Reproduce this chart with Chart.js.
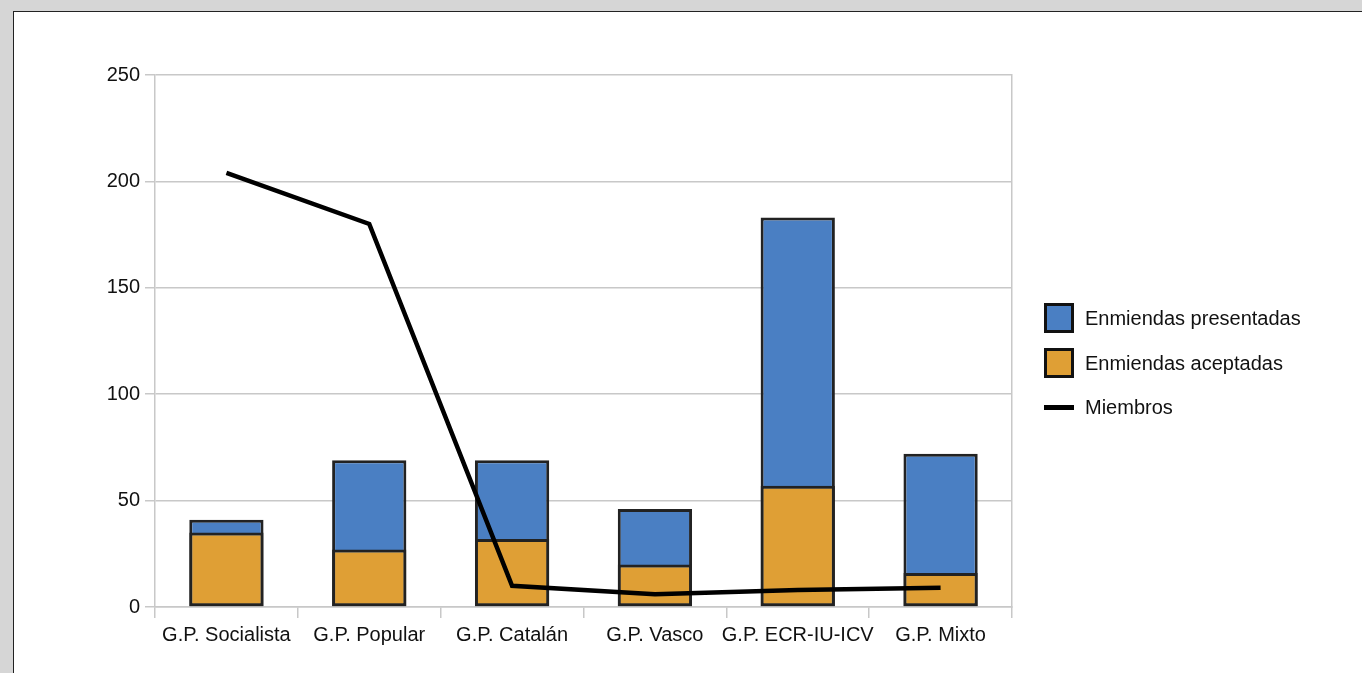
<!DOCTYPE html>
<html>
<head>
<meta charset="utf-8">
<script src="https://cdn.jsdelivr.net/npm/chart.js@4/dist/chart.umd.min.js"></script>
<style>
  html, body { margin: 0; padding: 0; background: #d6d6d6; width: 1362px; height: 673px; overflow: hidden; }
  #frame { position: absolute; left: 13px; top: 11px; width: 1400px; height: 700px; background: #ffffff; border: 1px solid #222; box-sizing: border-box; }
  #c { position: absolute; left: 0; top: 0; }
  #legend { position: absolute; left: 1044px; top: 303px; font-family: "Liberation Sans", Arial, sans-serif; font-size: 20px; color: #111; }
  .item { position: relative; height: 30px; margin-bottom: 14.5px; }
  .swatch { position: absolute; left: 0; top: 0; width: 30px; height: 30px; box-sizing: border-box; border: 3px solid #111; }
  .lineswatch { position: absolute; left: 0; top: 13px; width: 30px; height: 5px; background: #000; }
  .lbl { position: absolute; left: 41px; top: 3px; white-space: nowrap; line-height: 24px; }
</style>
</head>
<body>
<div id="frame"></div>
<canvas id="c" width="1362" height="673"></canvas>
<div id="legend"></div>
<script>
const categories = ["G.P. Socialista", "G.P. Popular", "G.P. Catalán", "G.P. Vasco", "G.P. ECR-IU-ICV", "G.P. Mixto"];
const presentadas = [41, 69, 69, 46, 183, 72];
const aceptadas = [35, 27, 32, 20, 57, 16];
const miembros = [204, 180, 10, 6, 8, 9];
const yTicks = [0, 50, 100, 150, 200, 250];
const seriesNames = ["Enmiendas presentadas", "Enmiendas aceptadas", "Miembros"];

const BLUE = "#4a7fc3";
const ORANGE = "#df9f35";
const GRID = "#c8c8c8";
const FONT = { family: "'Liberation Sans', Arial, sans-serif", size: 20 };

const chart = new Chart(document.getElementById("c"), {
  data: {
    labels: categories,
    datasets: [
      { type: "bar", label: seriesNames[0], data: presentadas, backgroundColor: BLUE, borderColor: "#222", borderWidth: 3, borderSkipped: false, order: 3, barPercentage: 0.52, categoryPercentage: 1 },
      { type: "bar", label: seriesNames[1], data: aceptadas, backgroundColor: ORANGE, borderColor: "#222", borderWidth: 3, borderSkipped: false, order: 2, barPercentage: 0.52, categoryPercentage: 1 },
      { type: "line", label: seriesNames[2], data: miembros, borderColor: "#000", backgroundColor: "#000", borderWidth: 4.5, pointRadius: 0, tension: 0, order: 1 }
    ]
  },
  options: {
    responsive: false,
    animation: false,
    layout: { padding: { top: 75, right: 350, bottom: 26, left: 0 } },
    plugins: { legend: { display: false }, tooltip: { enabled: false } },
    scales: {
      x: {
        stacked: true,
        offset: true,
        grid: { offset: true, drawOnChartArea: false, drawTicks: true, tickLength: 11, color: GRID, lineWidth: 1.5 },
        border: { display: true, color: GRID, width: 1.5 },
        ticks: { color: "#111", font: FONT, padding: 5, maxRotation: 0, autoSkip: false },
        afterFit: (s) => { s.height = 40; }
      },
      y: {
        stacked: false,
        min: yTicks[0],
        max: yTicks[yTicks.length - 1],
        afterBuildTicks: (s) => { s.ticks = yTicks.map(v => ({ value: v })); },
        grid: { color: GRID, lineWidth: 1.5, tickLength: 10 },
        border: { display: true, color: GRID, width: 1.5 },
        ticks: { color: "#111", font: FONT, padding: 5 },
        afterFit: (s) => { s.width = 155; }
      },
      y2: {
        position: "right",
        min: yTicks[0],
        max: yTicks[yTicks.length - 1],
        grid: { drawOnChartArea: false, drawTicks: false },
        border: { display: true, color: GRID, width: 1.5 },
        ticks: { display: false },
        afterFit: (s) => { s.width = 0; }
      }
    }
  }
});

// HTML legend built from the datasets
const legend = document.getElementById("legend");
chart.data.datasets.forEach((ds) => {
  const item = document.createElement("div");
  item.className = "item";
  const sw = document.createElement("div");
  if (ds.type === "line") {
    sw.className = "lineswatch";
    sw.style.background = ds.borderColor;
  } else {
    sw.className = "swatch";
    sw.style.background = ds.backgroundColor;
  }
  const lbl = document.createElement("div");
  lbl.className = "lbl";
  lbl.textContent = ds.label;
  item.appendChild(sw);
  item.appendChild(lbl);
  legend.appendChild(item);
});
</script>
</body>
</html>
